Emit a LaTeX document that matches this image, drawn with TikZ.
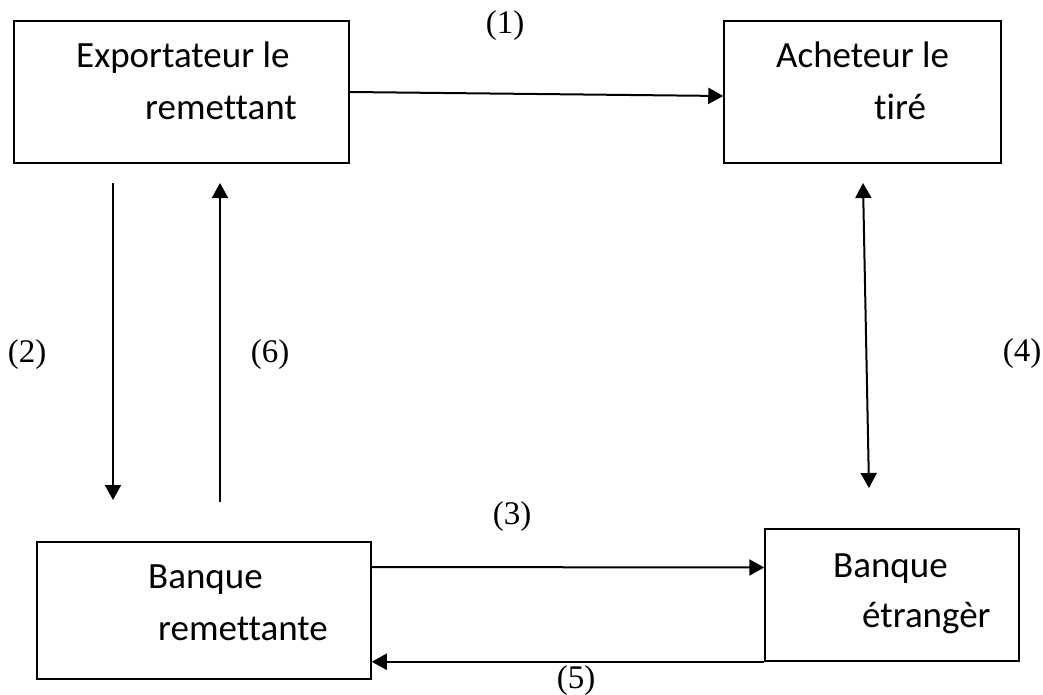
\documentclass[tikz,border=0pt]{standalone}
\usepackage{fontspec}
\setmainfont{Liberation Serif}
\newfontfamily\boxfont[Ligatures=NoCommon]{Carlito}
\usetikzlibrary{arrows.meta}
\begin{document}
\begin{tikzpicture}[x=1pt,y=-1pt,
  boxnode/.style={draw,line width=1.5pt,inner sep=0pt},
  txt/.style={anchor=base west,inner sep=0pt,font=\boxfont\fontsize{37}{44}\selectfont},
  lbl/.style={inner sep=0pt,font=\fontsize{33}{38}\selectfont},
  arr/.style={line width=2pt,-{Triangle[length=15pt,width=16pt]}},
  darr/.style={line width=2pt,{Triangle[length=15pt,width=16pt]}-{Triangle[length=15pt,width=16pt]}}]
\useasboundingbox (0,0) rectangle (1043,695);
% boxes
\node[boxnode,minimum width=335pt,minimum height=142pt] (exp) at (181.5,92) {};
\node[boxnode,minimum width=277pt,minimum height=142pt] (ach) at (862.5,92) {};
\node[boxnode,minimum width=334pt,minimum height=137pt] (rem) at (204,610.5) {};
\node[boxnode,minimum width=254pt,minimum height=132pt] (etr) at (892,595) {};
% texts
\node[txt] (t1) at (76,68) {Exportateur le};
\node[txt] (t2) at (145,120) {remettant};
\node[txt] (t3) at (776,68) {Acheteur le};
\node[txt] (t4) at (874,120) {tiré};
\node[txt] (t5) at (148,588) {Banque};
\node[txt] (t6) at (158,640) {remettante};
\node[txt] (t7) at (833,577) {Banque};
\node[txt] (t8) at (862,627) {étrangèr};
% labels
\node[lbl] (l1) at (505,26) {(1)};
\node[lbl] (l2) at (27,355) {(2)};
\node[lbl] (l6) at (270,355) {(6)};
\node[lbl] (l4) at (1022,354) {(4)};
\node[lbl] (l3) at (512,517) {(3)};
\node[lbl] (l5) at (576,681) {(5)};
% free ends
\coordinate (a2s) at (113,183);
\coordinate (a2e) at (113,500);
\coordinate (a6s) at (220,502);
\coordinate (a6e) at (220,183);
\coordinate (a4s) at (863,183);
\coordinate (a4e) at (869,488);
% connectors
\draw[arr] (exp.east) -- ([yshift=-4pt]ach.west);
\draw[arr] ([yshift=43.5pt]rem.east) -- ([yshift=27.5pt]etr.west);
\draw[arr] (etr.south west) -- (rem.east |- etr.south west);
\draw[arr] (a2s) -- (a2e);
\draw[arr] (a6s) -- (a6e);
\draw[darr] (a4s) -- (a4e);
\end{tikzpicture}
\end{document}
